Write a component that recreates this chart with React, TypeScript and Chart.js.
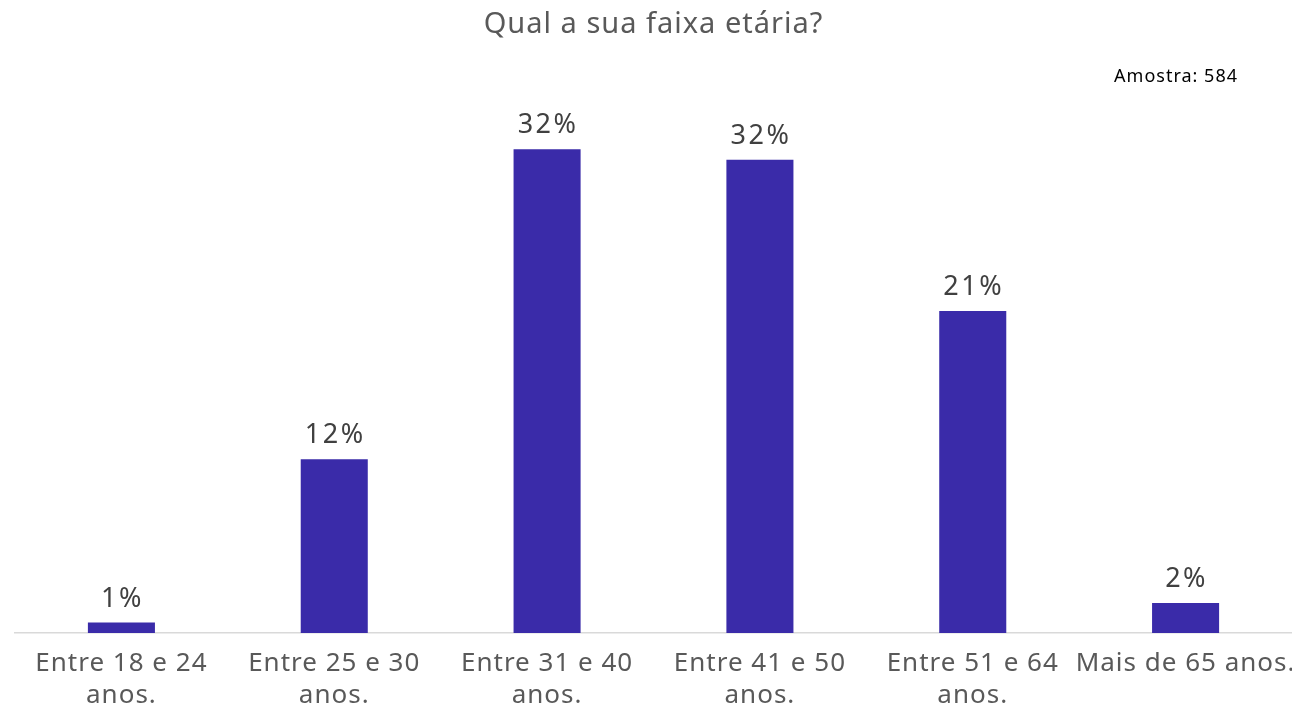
import React, { useEffect, useRef } from "react";
import { Chart, registerables } from "chart.js";

Chart.register(...registerables);

const titleText = "Qual a sua faixa etária?";
const sampleText = "Amostra: 584";
const categories: string[][] = [
  ["Entre 18 e 24", "anos."],
  ["Entre 25 e 30", "anos."],
  ["Entre 31 e 40", "anos."],
  ["Entre 41 e 50", "anos."],
  ["Entre 51 e 64", "anos."],
  ["Mais de 65 anos."],
];
const values: number[] = [0.7, 11.6, 32.3, 31.6, 21.5, 2.0];
const labelTexts: string[] = ["1%", "12%", "32%", "32%", "21%", "2%"];

const FONT = "'Noto Sans', sans-serif";

const spacing = {
  id: "spacing",
  beforeDraw(chart: any) {
    chart.ctx.letterSpacing = "1px";
  },
};

const valueLabels = {
  id: "valueLabels",
  afterDatasetsDraw(chart: any) {
    const ctx = chart.ctx;
    const meta = chart.getDatasetMeta(0);
    ctx.save();
    ctx.letterSpacing = "2.5px";
    ctx.font = `27px ${FONT}`;
    ctx.fillStyle = "#404040";
    ctx.textAlign = "center";
    ctx.textBaseline = "alphabetic";
    meta.data.forEach((bar: any, i: number) => {
      ctx.fillText(labelTexts[i], bar.x + 1, bar.y - 16);
    });
    ctx.restore();
  },
};

const sampleNote = {
  id: "sampleNote",
  afterDraw(chart: any) {
    const ctx = chart.ctx;
    ctx.save();
    ctx.letterSpacing = "1px";
    ctx.font = `18px ${FONT}`;
    ctx.fillStyle = "#000000";
    ctx.textAlign = "right";
    ctx.textBaseline = "middle";
    ctx.fillText(sampleText, chart.width - 54, 77);
    ctx.restore();
  },
};

export default function App() {
  const ref = useRef<HTMLCanvasElement>(null);
  useEffect(() => {
    if (!ref.current) return;
    const chart = new Chart(ref.current, {
      type: "bar",
      data: {
        labels: categories,
        datasets: [
          {
            data: values,
            backgroundColor: "#3A2BA9",
            borderWidth: 0,
            categoryPercentage: 1,
            barPercentage: 0.315,
          },
        ],
      },
      options: {
        animation: false,
        responsive: false,
        maintainAspectRatio: false,
        layout: { padding: { left: 15, right: 0, top: 0, bottom: 0 } },
        plugins: {
          legend: { display: false },
          tooltip: { enabled: false },
          title: {
            display: true,
            text: titleText,
            color: "#595959",
            font: { family: FONT, size: 29, weight: "normal" },
            padding: { top: 7, bottom: 67 },
          },
        },
        scales: {
          y: { display: false, min: 0, max: 35 },
          x: {
            grid: { display: false, drawTicks: false },
            border: { display: true, color: "#D9D9D9", width: 1.5 },
            ticks: {
              color: "#595959",
              font: { family: FONT, size: 26, lineHeight: 1.22 },
              padding: 15,
              maxRotation: 0,
              autoSkip: false,
            },
            afterFit: (scale: any) => {
              scale.height = 78;
              scale.paddingLeft = 0;
              scale.paddingRight = 0;
            },
          },
        },
      },
      plugins: [spacing, valueLabels, sampleNote],
    });
    return () => chart.destroy();
  }, []);
  return (
    <div style={{ position: "fixed", left: 0, top: 0, width: 1292, height: 711, background: "#fff" }}>
      <canvas ref={ref} width={1292} height={711} style={{ width: 1292, height: 711 }} />
    </div>
  );
}
